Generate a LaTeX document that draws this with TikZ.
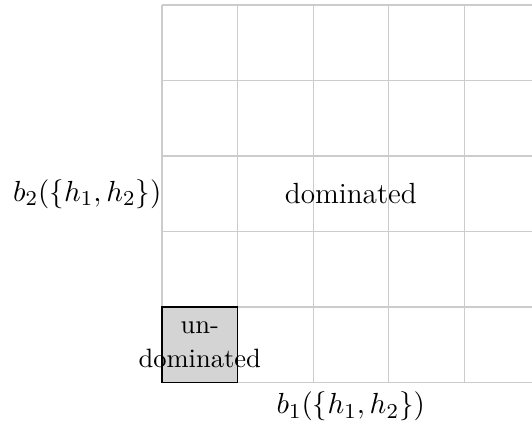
\documentclass[tikz,border=0pt]{standalone}
\usepackage{amsmath}
\usetikzlibrary{calc}

\begin{document}
\begin{tikzpicture}[font=\fontsize{11}{13}\selectfont]
  \useasboundingbox (-2.146,-0.596) rectangle (4.90,5.066);
  \coordinate (O) at (0,0);
  \coordinate (U) at (1,1);
  \coordinate (M) at (2.5,2.5);

  \draw[black!20] (O) grid (5,5);
  \draw[fill=black!17] (O) rectangle (U);

  \node[align=center, font=\fontsize{10}{13}\selectfont] at ($(O)!0.5!(U)$) {un-\\dominated};
  \node at (M) {dominated};
  \node[below] at (2.5,0) {$b_1(\{h_1,h_2\})$};
  \node[left, inner sep=0pt] at (0,2.5) {$b_2(\{h_1,h_2\})$};
\end{tikzpicture}
\end{document}
